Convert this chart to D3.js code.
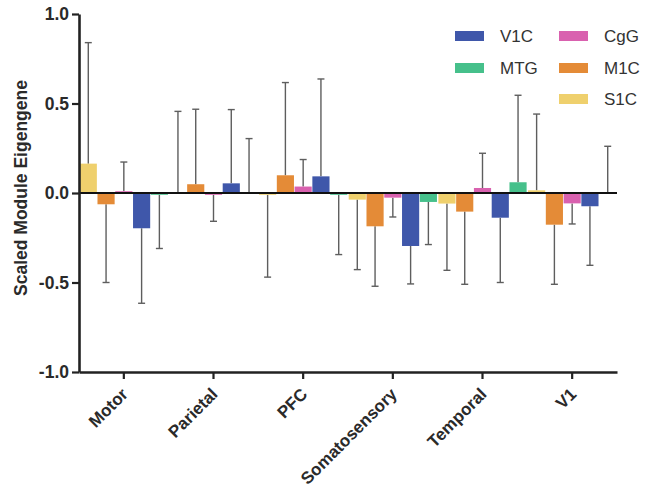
<!DOCTYPE html>
<html>
<head>
<meta charset="utf-8">
<script src="https://cdn.jsdelivr.net/npm/d3@7"></script>
<style>
  html, body { margin: 0; padding: 0; background: #fff; }
  svg { display: block; font-family: "Liberation Sans", Arial, Helvetica, sans-serif; }
</style>
</head>
<body>
<svg id="chart" width="659" height="492"></svg>
<script>
const regions = ["Motor", "Parietal", "PFC", "Somatosensory", "Temporal", "V1"];
const seriesOrder = ["S1C", "M1C", "CgG", "V1C", "MTG"];
const legendOrder = ["V1C", "MTG", "CgG", "M1C", "S1C"];
const yTicks = [-1.0, -0.5, 0.0, 0.5, 1.0];
const yTickLabels = ["-1.0", "-0.5", "0.0", "0.5", "1.0"];

// values per series, in region order
const S1C = [0.164, 0.004, -0.010, -0.037, -0.059, 0.015];
const M1C = [-0.063, 0.049, 0.099, -0.186, -0.104, -0.177];
const CgG = [0.010, -0.010, 0.036, -0.026, 0.028, -0.058];
const V1C = [-0.197, 0.054, 0.093, -0.296, -0.138, -0.074];
const MTG = [-0.010, 0.003, -0.010, -0.050, 0.060, 0.002];

// error bar end values per series
const S1C_err = [0.84, 0.456, -0.47, -0.428, -0.432, 0.441];
const M1C_err = [-0.50, 0.468, 0.617, -0.521, -0.51, -0.51];
const CgG_err = [0.173, -0.158, 0.187, -0.134, 0.222, -0.173];
const V1C_err = [-0.616, 0.466, 0.637, -0.508, -0.50, -0.404];
const MTG_err = [-0.31, 0.304, -0.344, -0.288, 0.546, 0.261];

const colors = {V1C: "#3f57aa", MTG: "#46c08b", CgG: "#d961af", M1C: "#e48b37", S1C: "#efd06d"};

const values = {S1C, M1C, CgG, V1C, MTG};
const errs = {S1C: S1C_err, M1C: M1C_err, CgG: CgG_err, V1C: V1C_err, MTG: MTG_err};

const svg = d3.select("#chart");
const mLeft = 79, mRight = 617, mTop = 14, mBottom = 372;

const x = d3.scaleBand().domain(regions).range([mLeft, mRight]).padding(0);
const xi = d3.scaleBand().domain(seriesOrder).range([0, x.bandwidth()]).paddingInner(0.035).paddingOuter(0.04);
const y = d3.scaleLinear().domain([-1, 1]).range([mBottom, mTop]);

const data = [];
regions.forEach((r, i) => {
  seriesOrder.forEach(s => {
    data.push({region: r, series: s, v: values[s][i], e: errs[s][i]});
  });
});

// error bars
const eb = svg.append("g").attr("stroke", "#5e5e5e").attr("stroke-width", 1.4).attr("fill", "none");
data.forEach(d => {
  const cx = x(d.region) + xi(d.series) + xi.bandwidth() / 2;
  eb.append("line").attr("x1", cx).attr("x2", cx).attr("y1", y(d.v)).attr("y2", y(d.e));
  eb.append("line").attr("x1", cx - 3.5).attr("x2", cx + 3.5).attr("y1", y(d.e)).attr("y2", y(d.e));
});

// bars
svg.append("g").selectAll("rect").data(data).join("rect")
  .attr("x", d => x(d.region) + xi(d.series))
  .attr("width", xi.bandwidth())
  .attr("y", d => y(Math.max(0, d.v)))
  .attr("height", d => Math.max(1.2, Math.abs(y(d.v) - y(0))))
  .attr("fill", d => colors[d.series]);

// zero line
svg.append("line").attr("x1", mLeft).attr("x2", mRight).attr("y1", y(0)).attr("y2", y(0))
  .attr("stroke", "#111").attr("stroke-width", 2.2);

// y axis
const yAxis = svg.append("g").attr("transform", `translate(${mLeft},0)`)
  .call(d3.axisLeft(y).tickValues(yTicks).tickFormat((d, i) => yTickLabels[i]).tickSize(7).tickSizeOuter(0));
yAxis.select(".domain").attr("stroke", "#222").attr("stroke-width", 2.6);
yAxis.selectAll(".tick line").attr("stroke", "#222").attr("stroke-width", 2.2);
yAxis.selectAll(".tick text").attr("font-size", 17.5).attr("font-weight", "bold").attr("fill", "#2a2a2a")
  .attr("font-family", "'Liberation Sans', Arial, sans-serif").attr("x", -10);

// x axis
const xAxis = svg.append("g").attr("transform", `translate(0,${mBottom})`)
  .call(d3.axisBottom(x).tickSize(7).tickSizeOuter(0));
xAxis.select(".domain").attr("stroke", "#222").attr("stroke-width", 2.6);
xAxis.selectAll(".tick line").attr("stroke", "#222").attr("stroke-width", 2.2);
xAxis.selectAll(".tick text").attr("font-size", 17).attr("font-weight", "bold").attr("fill", "#2a2a2a")
  .attr("font-family", "'Liberation Sans', Arial, sans-serif")
  .attr("text-anchor", "end").attr("dy", "0.35em")
  .attr("transform", "translate(1,19) rotate(-45)").attr("y", 0).attr("x", 0);

// y label
svg.append("text").attr("transform", `translate(27,188) rotate(-90)`)
  .attr("text-anchor", "middle").attr("font-size", 17.5).attr("font-weight", "bold").attr("fill", "#2a2a2a")
  .attr("font-family", "'Liberation Sans Narrow', 'Liberation Sans', Arial, sans-serif")
  .text("Scaled Module Eigengene");

// legend
const legPos = {
  V1C: [455, 36], MTG: [455, 68], CgG: [559, 36], M1C: [559, 68], S1C: [559, 99]
};
const leg = svg.append("g");
legendOrder.forEach(s => {
  const [lx, ly] = legPos[s];
  leg.append("rect").attr("x", lx).attr("y", ly - 5).attr("width", 29).attr("height", 10).attr("fill", colors[s]);
  leg.append("text").attr("x", lx + 45).attr("y", ly).attr("dy", "0.36em")
    .attr("font-size", 17).attr("fill", "#333").text(s);
});
</script>
</body>
</html>
